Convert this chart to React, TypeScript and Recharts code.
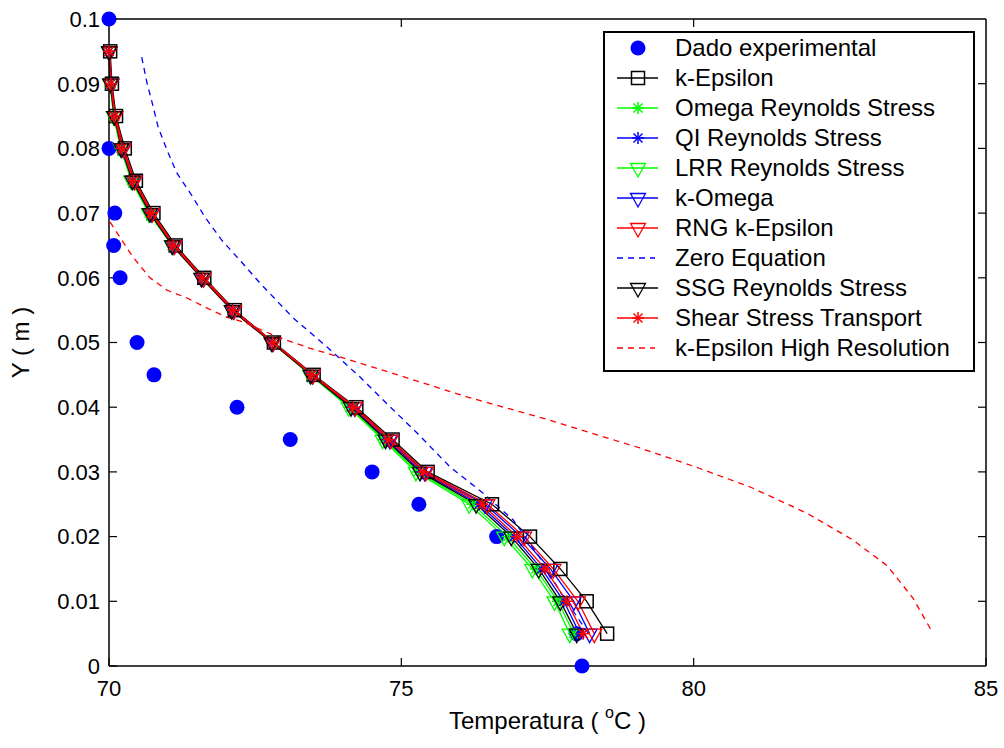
import { ComposedChart, Line, Scatter, XAxis, YAxis, Legend, ReferenceLine } from 'recharts'

// heights (m) where the simulated profiles are sampled
const heights = [0.095, 0.09, 0.085, 0.08, 0.075, 0.07, 0.065, 0.06, 0.055, 0.05, 0.045, 0.04, 0.035, 0.03, 0.025, 0.02, 0.015, 0.01, 0.005]

const kEpsilon = [70.02, 70.05, 70.12, 70.27, 70.46, 70.76, 71.14, 71.63, 72.15, 72.82, 73.5, 74.23, 74.85, 75.45, 76.55, 77.2, 77.72, 78.17, 78.52]
const omegaReynolds = [70.0, 70.02, 70.08, 70.2, 70.39, 70.69, 71.08, 71.6, 72.12, 72.8, 73.45, 74.12, 74.7, 75.28, 76.22, 76.82, 77.3, 77.68, 77.95]
const qiReynolds = [70.0, 70.03, 70.09, 70.22, 70.41, 70.71, 71.09, 71.59, 72.11, 72.79, 73.46, 74.16, 74.76, 75.35, 76.33, 76.93, 77.4, 77.78, 78.05]
const lrrReynolds = [70.0, 70.02, 70.08, 70.2, 70.38, 70.68, 71.08, 71.62, 72.13, 72.79, 73.44, 74.1, 74.68, 75.25, 76.16, 76.76, 77.24, 77.62, 77.88]
const kOmega = [70.01, 70.04, 70.1, 70.24, 70.43, 70.73, 71.11, 71.61, 72.13, 72.8, 73.48, 74.2, 74.8, 75.4, 76.43, 77.05, 77.55, 77.95, 78.22]
const rngKEpsilon = [70.01, 70.04, 70.11, 70.25, 70.44, 70.74, 71.12, 71.62, 72.14, 72.81, 73.49, 74.21, 74.82, 75.42, 76.47, 77.1, 77.6, 78.02, 78.3]
const ssgReynolds = [70.0, 70.02, 70.09, 70.21, 70.4, 70.7, 71.08, 71.58, 72.1, 72.78, 73.45, 74.14, 74.73, 75.32, 76.28, 76.88, 77.35, 77.72, 78.0]
const sst = [70.0, 70.03, 70.1, 70.22, 70.42, 70.72, 71.1, 71.6, 72.12, 72.8, 73.47, 74.18, 74.78, 75.38, 76.38, 76.98, 77.46, 77.83, 78.11]

const zeroEqTemp = [70.56, 70.65, 70.74, 70.84, 70.99, 71.16, 71.39, 71.64, 71.93, 72.27, 72.58, 73.15, 73.73, 74.29, 74.69, 75.27, 75.83, 76.4, 76.91, 77.35, 77.75, 78.2]
const zeroEqY = [0.0941, 0.0901, 0.087, 0.0833, 0.0798, 0.0762, 0.0731, 0.0694, 0.0658, 0.0624, 0.0592, 0.0538, 0.0493, 0.0447, 0.0411, 0.036, 0.0308, 0.0267, 0.0226, 0.017, 0.011, 0.005]

const highResTemp = [70.02, 70.14, 70.41, 70.7, 70.99, 71.33, 71.68, 72.02, 72.29, 72.87, 73.44, 74.12, 74.41, 76.12, 77.54, 79.08, 79.99, 80.96, 81.94, 82.72, 83.31, 83.75, 84.09]
const highResY = [0.0686, 0.0669, 0.0632, 0.06, 0.0581, 0.0569, 0.0553, 0.0539, 0.0532, 0.0509, 0.0491, 0.0473, 0.0465, 0.0416, 0.038, 0.0337, 0.0309, 0.0277, 0.0236, 0.0195, 0.0155, 0.0105, 0.0051]

const expTemp = [70.0, 70.0, 70.1, 70.08, 70.19, 70.48, 70.77, 72.19, 73.1, 74.5, 75.3, 76.63, 78.0, 78.09]
const expY = [0.1, 0.08, 0.07, 0.065, 0.06, 0.05, 0.045, 0.04, 0.035, 0.03, 0.025, 0.02, 0.005, 0]

const xTicks = [70, 75, 80, 85]
const yTicks = [0, 0.01, 0.02, 0.03, 0.04, 0.05, 0.06, 0.07, 0.08, 0.09, 0.1]

const FONT = '"Liberation Sans", Arial, sans-serif'
const BLUE = '#0000ff'
const GREEN = '#00ff00'
const RED = '#ff0000'
const BLACK = '#000000'

const profile = (temps: number[]) => temps.map((t, i) => ({ x: t, y: heights[i] }))
const pairs = (xs: number[], ys: number[]) => xs.map((t, i) => ({ x: t, y: ys[i] }))

type MarkerKind = 'dot' | 'square' | 'star' | 'tri' | 'none'

function markerShape(kind: MarkerKind, color: string, cx: number, cy: number) {
  switch (kind) {
    case 'dot':
      return <circle cx={cx} cy={cy} r={7.5} fill={color} />
    case 'square':
      return <rect x={cx - 6.5} y={cy - 6.5} width={13} height={13} fill="none" stroke={color} strokeWidth={1.5} />
    case 'tri':
      return (
        <polygon
          points={`${cx - 7.5},${cy - 4.5} ${cx + 7.5},${cy - 4.5} ${cx},${cy + 9}`}
          fill="none"
          stroke={color}
          strokeWidth={1.3}
        />
      )
    case 'star':
      return (
        <g stroke={color} strokeWidth={1.5}>
          <line x1={cx - 6} y1={cy} x2={cx + 6} y2={cy} />
          <line x1={cx} y1={cy - 6} x2={cx} y2={cy + 6} />
          <line x1={cx - 4.5} y1={cy - 4.5} x2={cx + 4.5} y2={cy + 4.5} />
          <line x1={cx - 4.5} y1={cy + 4.5} x2={cx + 4.5} y2={cy - 4.5} />
        </g>
      )
    default:
      return null
  }
}

const dotRenderer = (kind: MarkerKind, color: string) => (props: any) => {
  const { cx, cy, index } = props
  if (cx == null || cy == null) return <g key={`e-${index}`} />
  return <g key={`m-${index}`}>{markerShape(kind, color, cx, cy)}</g>
}

// inward tick marks on the top and right edges of the frame (MATLAB box style),
// taken from the reference line's own viewBox (either end may come first)
const TopTick = (props: any) => {
  const { viewBox } = props
  if (!viewBox) return null
  const x = viewBox.x + (viewBox.width || 0) / 2
  const top = Math.min(viewBox.y, viewBox.y + (viewBox.height || 0))
  return <line x1={x} y1={top} x2={x} y2={top + 8} stroke="#000" strokeWidth={1.2} />
}
const RightTick = (props: any) => {
  const { viewBox } = props
  if (!viewBox) return null
  const y = viewBox.y + (viewBox.height || 0) / 2
  const right = Math.max(viewBox.x, viewBox.x + (viewBox.width || 0))
  return <line x1={right} y1={y} x2={right - 8} y2={y} stroke="#000" strokeWidth={1.2} />
}

const legendItems: { name: string; color: string; marker: MarkerKind; line: 'solid' | 'dash' | 'none' }[] = [
  { name: 'Dado experimental', color: BLUE, marker: 'dot', line: 'none' },
  { name: 'k-Epsilon', color: BLACK, marker: 'square', line: 'solid' },
  { name: 'Omega Reynolds Stress', color: GREEN, marker: 'star', line: 'solid' },
  { name: 'QI Reynolds Stress', color: BLUE, marker: 'star', line: 'solid' },
  { name: 'LRR Reynolds Stress', color: GREEN, marker: 'tri', line: 'solid' },
  { name: 'k-Omega', color: BLUE, marker: 'tri', line: 'solid' },
  { name: 'RNG k-Epsilon', color: RED, marker: 'tri', line: 'solid' },
  { name: 'Zero Equation', color: BLUE, marker: 'none', line: 'dash' },
  { name: 'SSG Reynolds Stress', color: BLACK, marker: 'tri', line: 'solid' },
  { name: 'Shear Stress Transport', color: RED, marker: 'star', line: 'solid' },
  { name: 'k-Epsilon High Resolution', color: RED, marker: 'none', line: 'dash' },
]

const renderLegend = () => (
  <div
    style={{
      width: 372,
      height: 341,
      border: '2px solid #000',
      background: '#fff',
      boxSizing: 'border-box',
      fontFamily: FONT,
    }}
  >
    {legendItems.map((item) => (
      <div key={item.name} style={{ display: 'flex', alignItems: 'center', height: 30 }}>
        <svg width={70} height={30} style={{ flex: 'none' }}>
          {item.line !== 'none' && (
            <line
              x1={12}
              y1={15}
              x2={item.line === 'dash' ? 50 : 53}
              y2={15}
              stroke={item.color}
              strokeWidth={1.3}
              strokeDasharray={item.line === 'dash' ? '6 5' : undefined}
            />
          )}
          {markerShape(item.marker, item.color, 33, 15)}
        </svg>
        <span style={{ fontSize: 24, color: '#000', whiteSpace: 'nowrap' }}>{item.name}</span>
      </div>
    ))}
  </div>
)

const XLabel = (props: any) => {
  const { viewBox } = props
  const cx = viewBox.x + viewBox.width / 2
  const cy = viewBox.y + 54
  return (
    <text x={cx} y={cy} textAnchor="middle" dominantBaseline="central" fontSize={24} fontFamily={FONT} fill="#000">
      {'Temperatura ( '}
      <tspan dy={-8} fontSize={16}>
        o
      </tspan>
      <tspan dy={8}>{'C )'}</tspan>
    </text>
  )
}

const YLabel = (props: any) => {
  const { viewBox } = props
  const cx = viewBox.x + 11
  const cy = viewBox.y + viewBox.height / 2
  return (
    <text
      x={cx}
      y={cy}
      transform={`rotate(-90 ${cx} ${cy})`}
      textAnchor="middle"
      dominantBaseline="central"
      fontSize={24}
      fontFamily={FONT}
      fill="#000"
    >
      Y ( m )
    </text>
  )
}

const axisLine = { stroke: '#000', strokeWidth: 1.5 }
const tickLine = { stroke: '#000', strokeWidth: 1.2 }
const tickFont = { fontSize: 22, fontFamily: FONT, fill: '#000' }

export default function App() {
  return (
    <div style={{ position: 'absolute', left: 0, top: 0, width: 1004, height: 748, background: '#fff' }}>
      <ComposedChart width={1004} height={748} margin={{ top: 19, right: 18, bottom: 22, left: 9 }}>
        <XAxis
          dataKey="x"
          type="number"
          domain={[70, 85]}
          ticks={xTicks}
          height={60}
          tickSize={-8}
          tickMargin={22}
          tick={tickFont}
          axisLine={axisLine}
          tickLine={tickLine}
          label={<XLabel />}
        />
        <YAxis
          type="number"
          domain={[0, 0.1]}
          ticks={yTicks}
          width={100}
          tickSize={-8}
          tickMargin={17}
          tick={tickFont}
          tickFormatter={(v: number) => String(v)}
          axisLine={axisLine}
          tickLine={tickLine}
          label={<YLabel />}
        />
        <Legend
          content={renderLegend}
          layout="vertical"
          align="center"
          verticalAlign="middle"
          wrapperStyle={{ position: 'absolute', left: 603, top: 31, width: 372, height: 341 }}
        />

        {/* frame: top and right edges plus their inward ticks */}
        <ReferenceLine y={0.1} stroke="#000" strokeWidth={1.5} />
        <ReferenceLine x={85} stroke="#000" strokeWidth={1.5} />
        {xTicks.slice(1, -1).map((t) => (
          <ReferenceLine key={`tx-${t}`} x={t} stroke="#fff" strokeOpacity={0} label={<TopTick />} />
        ))}
        {yTicks.slice(1, -1).map((t) => (
          <ReferenceLine key={`ty-${t}`} y={t} stroke="#fff" strokeOpacity={0} label={<RightTick />} />
        ))}

        <Scatter
          name="Dado experimental"
          data={pairs(expTemp, expY)}
          dataKey="y"
          fill={BLUE}
          shape={(p: any) => <circle cx={p.cx} cy={p.cy} r={7.5} fill={BLUE} />}
          isAnimationActive={false}
        />
        <Line data={profile(kEpsilon)} dataKey="y" name="k-Epsilon" stroke={BLACK} strokeWidth={1.3} dot={dotRenderer('square', BLACK)} isAnimationActive={false} />
        <Line data={profile(omegaReynolds)} dataKey="y" name="Omega Reynolds Stress" stroke={GREEN} strokeWidth={1.3} dot={dotRenderer('star', GREEN)} isAnimationActive={false} />
        <Line data={profile(qiReynolds)} dataKey="y" name="QI Reynolds Stress" stroke={BLUE} strokeWidth={1.3} dot={dotRenderer('star', BLUE)} isAnimationActive={false} />
        <Line data={profile(lrrReynolds)} dataKey="y" name="LRR Reynolds Stress" stroke={GREEN} strokeWidth={1.3} dot={dotRenderer('tri', GREEN)} isAnimationActive={false} />
        <Line data={profile(kOmega)} dataKey="y" name="k-Omega" stroke={BLUE} strokeWidth={1.3} dot={dotRenderer('tri', BLUE)} isAnimationActive={false} />
        <Line data={profile(rngKEpsilon)} dataKey="y" name="RNG k-Epsilon" stroke={RED} strokeWidth={1.3} dot={dotRenderer('tri', RED)} isAnimationActive={false} />
        <Line data={pairs(zeroEqTemp, zeroEqY)} dataKey="y" name="Zero Equation" stroke={BLUE} strokeWidth={1.3} strokeDasharray="6 5" dot={false} isAnimationActive={false} />
        <Line data={profile(ssgReynolds)} dataKey="y" name="SSG Reynolds Stress" stroke={BLACK} strokeWidth={1.3} dot={dotRenderer('tri', BLACK)} isAnimationActive={false} />
        <Line data={profile(sst)} dataKey="y" name="Shear Stress Transport" stroke={RED} strokeWidth={1.3} dot={dotRenderer('star', RED)} isAnimationActive={false} />
        <Line data={pairs(highResTemp, highResY)} dataKey="y" name="k-Epsilon High Resolution" stroke={RED} strokeWidth={1.3} strokeDasharray="6 5" dot={false} isAnimationActive={false} />
      </ComposedChart>
    </div>
  )
}
